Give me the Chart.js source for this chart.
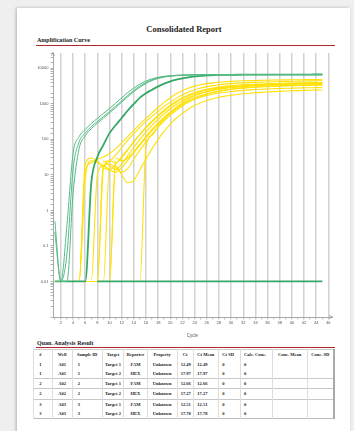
<!DOCTYPE html>
<html>
<head>
<meta charset="utf-8">
<script src="https://cdn.jsdelivr.net/npm/chart.js@4.4.1/dist/chart.umd.min.js"></script>
<style>
    html, body { margin: 0; padding: 0; }
    body { width: 354px; height: 431px; background: #efefef; position: relative; overflow: hidden; font-family: "Liberation Serif", serif; }
    .pagina { position: absolute; left: 17px; top: 8px; width: 333px; height: 440px; background: #fff; box-shadow: -1px 0 3px rgba(0,0,0,0.25); }
    .abs { position: absolute; white-space: nowrap; }
    .titulo { left: 0; top: 24px; width: 368px; text-align: center; font-weight: bold; font-size: 8.5px; line-height: 10px; color: #222; }
    .secao { left: 37px; font-weight: bold; font-size: 6px; line-height: 6px; color: #222; }
    .linha { left: 36px; width: 299px; height: 1px; background: #b3262b; }
    #grafico-wrap { position: absolute; left: 20px; top: 48px; width: 320px; height: 290px; }
    table { position: absolute; left: 33.3px; top: 349.3px; width: 300px; border-collapse: collapse; table-layout: fixed;
            font-size: 4.5px; font-weight: bold; color: #222; border-top: 1px solid #ccc; border-bottom: 1px solid #bbb; border-left: 1px solid #ddd; border-right: 2px solid #aaa; }
    td, th { height: 9.3px; padding: 0; border-left: 1px solid #ddd; text-align: center; line-height: 9.3px; font-weight: bold; }
    .esq { text-align: left; padding-left: 5px; }
    .esq3 { text-align: left; padding-left: 3px; }
    tr.sep td { border-top: 1px solid #c8c8c8; }
</style>
</head>
<body>
<div class="pagina"></div>
<div class="abs titulo">Consolidated Report</div>
<div class="abs secao" style="top:37px">Amplification Curve</div>
<div class="abs linha" style="top:44.5px"></div>
<div id="grafico-wrap"><canvas id="chartAmplificacao"></canvas></div>
<div class="abs secao" style="top:340px">Quan. Analysis Result</div>
<div class="abs linha" style="top:347px"></div>
<table id="tabela">
    <colgroup>
        <col style="width:18.4px"><col style="width:20px"><col style="width:30px"><col style="width:21.6px">
        <col style="width:23.4px"><col style="width:30px"><col style="width:16.6px"><col style="width:25px">
        <col style="width:21.7px"><col style="width:31.7px"><col style="width:35px"><col style="width:26.6px">
    </colgroup>
    <thead>
        <tr>
            <th class="esq">#</th><th>Well</th><th>Sample ID</th><th>Target</th><th>Reporter</th><th>Property</th>
            <th class="esq">Ct</th><th class="esq3">Ct Mean</th><th class="esq3">Ct SD</th><th class="esq3">Calc. Conc.</th><th>Conc. Mean</th><th>Conc. SD</th>
        </tr>
    </thead>
    <tbody id="corpo"></tbody>
</table>
<script>
// ciclos do eixo x
const ciclos = [1, 2, 3, 4, 5, 6, 7, 8, 9, 10, 11, 12, 13, 14, 15, 16, 17, 18, 19, 20, 21, 22, 23, 24, 25, 26, 27, 28, 29, 30, 31, 32, 33, 34, 35, 36, 37, 38, 39, 40, 41, 42, 43, 44, 45];
const rotulosY = ['0.01', '0.1', '1', '10', '100', '1000', '10000'];

// FAM (verde)
const famA = [0.5, 0.01, 0.4, 40, 120, 190, 280, 390, 540, 740, 1040, 1480, 2080, 2780, 3580, 4380, 5080, 5580, 5980, 6230, 6380, 6480, 6540, 6580, 6600, 6620, 6630, 6640, 6650, 6660, 6660, 6670, 6670, 6680, 6680, 6690, 6690, 6700, 6700, 6700, 6710, 6710, 6710, 6720, 6720];
const famB = [0.01, 0.01, 0.06, 14, 85, 150, 230, 320, 440, 610, 860, 1220, 1730, 2400, 3180, 3980, 4760, 5360, 5780, 6080, 6280, 6410, 6490, 6540, 6570, 6590, 6600, 6610, 6620, 6630, 6630, 6640, 6640, 6650, 6650, 6660, 6660, 6660, 6670, 6670, 6670, 6680, 6680, 6680, 6690];
const famC = [0.25, 0.01, 0.01, 3, 55, 125, 200, 285, 395, 550, 780, 1110, 1580, 2200, 2950, 3750, 4550, 5200, 5680, 6010, 6230, 6380, 6470, 6530, 6560, 6580, 6600, 6610, 6620, 6620, 6630, 6640, 6640, 6650, 6650, 6650, 6660, 6660, 6660, 6670, 6670, 6670, 6680, 6680, 6680];
const famD = [0.01, 0.01, 0.01, 0.01, 0.01, 0.01, 6, 32, 70, 150, 250, 400, 650, 1000, 1500, 2000, 2500, 3100, 3700, 4300, 4800, 5200, 5600, 5900, 6100, 6300, 6400, 6500, 6550, 6580, 6600, 6620, 6630, 6640, 6650, 6660, 6660, 6670, 6670, 6680, 6680, 6690, 6690, 6700, 6700];
const famNtc = [null, null, null, null, null, null, null, 0.01, 0.01, 0.01, 0.01, 0.01, 0.01, 0.01, 0.01, 0.01, 0.01, 0.01, 0.01, 0.01, 0.01, 0.01, 0.01, 0.01, 0.01, 0.01, 0.01, 0.01, 0.01, 0.01, 0.01, 0.01, 0.01, 0.01, 0.01, 0.01, 0.01, 0.01, 0.01, 0.01, 0.01, 0.01, 0.01, 0.01, 0.01];

// HEX (amarelo)
const hexA = [0.01, 0.01, 0.01, 0.01, 0.01, 12, 22, 28, 32, 40, 55, 80, 120, 180, 270, 390, 560, 800, 1100, 1480, 1920, 2380, 2800, 3150, 3450, 3700, 3900, 4050, 4180, 4290, 4380, 4450, 4510, 4560, 4600, 4640, 4680, 4710, 4740, 4760, 4780, 4800, 4820, 4840, 4850];
const hexB = [0.01, 0.01, 0.01, 0.01, 0.01, 8, 25, 22, 18, 24, 36, 58, 95, 145, 220, 320, 450, 620, 850, 1120, 1450, 1800, 2150, 2500, 2800, 3050, 3250, 3450, 3600, 3720, 3820, 3900, 3970, 4030, 4090, 4140, 4190, 4240, 4280, 4320, 4360, 4400, 4430, 4460, 4490];
const hexC = [0.01, 0.01, 0.01, 0.01, 0.01, 0.01, 0.01, 0.01, 15, 25, 22, 30, 50, 85, 140, 220, 330, 480, 680, 920, 1200, 1500, 1800, 2100, 2350, 2580, 2780, 2950, 3100, 3220, 3330, 3420, 3500, 3570, 3630, 3690, 3740, 3790, 3830, 3870, 3900, 3930, 3960, 3990, 4010];
const hexD = [0.01, 0.01, 0.01, 0.01, 0.01, 0.01, 0.01, 0.01, 25, 18, 14, 20, 35, 60, 100, 160, 250, 370, 530, 730, 960, 1220, 1480, 1740, 1980, 2200, 2400, 2570, 2720, 2850, 2960, 3060, 3150, 3230, 3300, 3360, 3420, 3470, 3520, 3560, 3600, 3630, 3660, 3690, 3710];
const hexE = [0.01, 0.01, 0.01, 0.01, 0.01, 0.01, 0.01, 0.01, 0.01, 20, 16, 12, 15, 28, 50, 85, 140, 220, 330, 480, 660, 880, 1120, 1370, 1620, 1850, 2060, 2250, 2420, 2570, 2700, 2810, 2910, 3000, 3080, 3150, 3210, 3260, 3310, 3350, 3390, 3420, 3450, 3480, 3500];
const hexF = [0.01, 0.01, 0.01, 0.01, 0.01, 0.01, 0.01, 0.01, 0.01, 0.01, 18, 10, 6, 7, 14, 28, 55, 100, 170, 270, 400, 540, 720, 900, 1080, 1250, 1400, 1530, 1650, 1750, 1840, 1920, 1990, 2050, 2110, 2160, 2210, 2250, 2290, 2330, 2360, 2390, 2420, 2440, 2460];
const hexG = [0.01, 0.01, 0.01, 0.01, 0.01, 0.01, 0.01, 0.01, 0.01, 0.01, 30, 25, 30, 45, 75, 120, 190, 290, 420, 590, 790, 1010, 1250, 1490, 1720, 1930, 2120, 2290, 2440, 2570, 2680, 2780, 2860, 2940, 3000, 3060, 3110, 3160, 3200, 3240, 3270, 3300, 3320, 3340, 3360];
const hexH = [0.01, 0.01, 0.01, 0.01, 0.01, 0.01, 0.01, 10, 18, 14, 12, 16, 26, 42, 68, 110, 175, 265, 385, 540, 720, 920, 1130, 1340, 1530, 1710, 1870, 2010, 2130, 2230, 2320, 2400, 2470, 2530, 2580, 2630, 2670, 2710, 2740, 2770, 2800, 2820, 2840, 2860, 2880];
const hexI = [0.01, 0.01, 0.01, 0.01, 0.01, 0.01, 0.01, 0.01, 0.01, 0.01, 0.01, 0.01, 0.01, 0.01, 0.01, 60, 130, 230, 370, 560, 800, 1080, 1380, 1680, 1960, 2220, 2450, 2650, 2820, 2970, 3100, 3210, 3300, 3380, 3450, 3510, 3560, 3610, 3650, 3690, 3720, 3750, 3780, 3800, 3820];
const hexJ = [0.01, 0.01, 0.01, 0.01, 0.01, 20, 30, 25, 16, 14, 20, 32, 52, 85, 135, 210, 310, 450, 630, 850, 1100, 1380, 1670, 1950, 2210, 2440, 2640, 2810, 2950, 3070, 3170, 3260, 3340, 3410, 3470, 3520, 3570, 3610, 3650, 3690, 3720, 3750, 3780, 3800, 3820];

// tabela de resultados
const poco = ['A01', 'A01', 'A02', 'A02', 'A03', 'A03'];
const amostra = ['1', '1', '2', '2', '3', '3'];
const alvo = ['Target 1', 'Target 2', 'Target 1', 'Target 2', 'Target 1', 'Target 2'];
const reporter = ['FAM', 'HEX', 'FAM', 'HEX', 'FAM', 'HEX'];
const ct = ['12.49', '17.97', '12.66', '17.27', '12.51', '17.78'];

const corpo = document.getElementById('corpo');
poco.forEach((p, i) => {
    const tr = document.createElement('tr');
    if (i === 2 || i === 3 || i === 4) tr.className = 'sep';
    tr.innerHTML = `<td class="esq">${amostra[i]}</td><td>${p}</td><td class="esq">${amostra[i]}</td><td>${alvo[i]}</td>` +
        `<td>${reporter[i]}</td><td>Unknown</td><td class="esq3">${ct[i]}</td><td class="esq3">${ct[i]}</td>` +
        `<td class="esq3">0</td><td class="esq3">0</td><td></td><td></td>`;
    corpo.appendChild(tr);
});

const pontos = (vals) => ciclos.map((c, i) => ({ x: c, y: vals[i] }));

const serie = (vals, cor, largura) => ({
    data: pontos(vals),
    borderColor: cor,
    borderWidth: largura,
    pointRadius: 0,
    fill: false,
    cubicInterpolationMode: 'monotone',
    spanGaps: false
});

const verdeClaro = '#55bb85';
const verde = '#35a865';
const amarelo = '#ffe108';

// desenha as setas no fim dos eixos
const setas = {
    id: 'setas',
    afterDraw(chart) {
        const { ctx, chartArea: a } = chart;
        ctx.save();
        ctx.strokeStyle = '#9a9a9a';
        ctx.lineWidth = 0.8;
        ctx.beginPath();
        ctx.moveTo(a.left - 1.5, a.top + 3); ctx.lineTo(a.left, a.top - 1); ctx.lineTo(a.left + 1.5, a.top + 3);
        ctx.moveTo(a.right - 3, a.bottom - 1.5); ctx.lineTo(a.right + 1, a.bottom); ctx.lineTo(a.right - 3, a.bottom + 1.5);
        ctx.stroke();
        ctx.restore();
    }
};

new Chart(document.getElementById('chartAmplificacao'), {
    type: 'line',
    data: {
        datasets: [
            serie(famNtc, verde, 1.8),
            serie(famA, verdeClaro, 1),
            serie(famB, verdeClaro, 1),
            serie(famC, verdeClaro, 1),
            serie(famD, verde, 1.8),
            serie(hexA, amarelo, 1.1),
            serie(hexB, amarelo, 1.1),
            serie(hexC, amarelo, 1.1),
            serie(hexD, amarelo, 1.1),
            serie(hexE, amarelo, 1.1),
            serie(hexF, amarelo, 1.1),
            serie(hexG, amarelo, 1.1),
            serie(hexH, amarelo, 1.1),
            serie(hexI, amarelo, 1.1),
            serie(hexJ, amarelo, 1.1)
        ]
    },
    options: {
        responsive: true,
        maintainAspectRatio: false,
        animation: false,
        layout: { padding: { top: 5, right: 8, left: 0, bottom: 0 } },
        plugins: { legend: { display: false }, tooltip: { enabled: false } },
        scales: {
            x: {
                type: 'linear',
                min: 0.7,
                max: 46.6,
                afterFit: (s) => { s.height = 21; },
                ticks: {
                    stepSize: 1,
                    includeBounds: false,
                    autoSkip: false,
                    maxRotation: 0,
                    padding: 1,
                    color: '#555',
                    font: { family: 'Liberation Sans', size: 4 },
                    callback: (v) => (v % 2 === 0 && v >= 2 && v <= 46) ? String(v) : ''
                },
                grid: {
                    color: (c) => (c.tick && c.tick.value % 2 === 0) ? '#d2d2d2' : 'rgba(0,0,0,0)',
                    lineWidth: 1.5,
                    tickColor: '#a0a0a0',
                    tickLength: 2.5,
                    tickWidth: 0.8
                },
                border: { color: '#a8a8a8', width: 1 },
                title: { display: true, text: 'Cycle', color: '#555', padding: 0, font: { family: 'Liberation Sans', size: 4.5 } }
            },
            y: {
                type: 'logarithmic',
                min: 0.001,
                max: 27000,
                afterFit: (s) => { s.width = 33; },
                ticks: {
                    autoSkip: false,
                    padding: 2,
                    color: '#555',
                    font: { family: 'Liberation Sans', size: 4 },
                    callback: (v) => {
                        const l = Math.log10(v);
                        if (Math.abs(l - Math.round(l)) < 1e-6 && Math.round(l) >= -2) return rotulosY[Math.round(l) + 2];
                        return '';
                    }
                },
                grid: { drawOnChartArea: false, color: '#a0a0a0', tickLength: 2.5, lineWidth: 0.8 },
                border: { color: '#a8a8a8', width: 1 }
            }
        }
    },
    plugins: [setas]
});
</script>
</body>
</html>
